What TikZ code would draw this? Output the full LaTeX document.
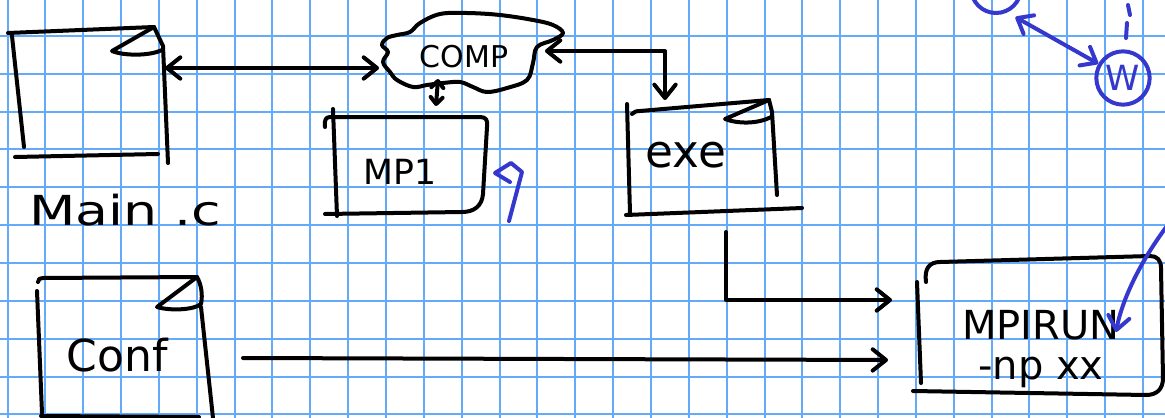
\documentclass[tikz,border=0pt]{standalone}
\usepackage{fontspec}
\setmainfont{DejaVu Sans}
\usetikzlibrary{arrows.meta}

\definecolor{gridblue}{RGB}{100,170,250}
\definecolor{penblue}{RGB}{52,56,205}

\tikzset{every picture/.style={line width=0.75pt}}
\tikzset{
  ink/.style={draw=black, line width=3pt, line cap=round, line join=round},
  blueink/.style={draw=penblue, line width=3pt, line cap=round, line join=round},
  gridline/.style={draw=gridblue, line width=1.5pt},
  barb/.style={-{Straight Barb[length=10pt,width=16pt,round]}},
  twobarb/.style={{Straight Barb[length=10pt,width=16pt,round]}-{Straight Barb[length=10pt,width=16pt,round]}},
  smallbarb/.style={{Straight Barb[length=5pt,width=9pt,round]}-{Straight Barb[length=5pt,width=9pt,round]}},
  lbl/.style={inner sep=0pt, font=\fontsize{#1}{#1}\selectfont},
  lbl/.default=30
}

\begin{document}
\begin{tikzpicture}[x=0.75pt,y=0.75pt,yscale=-1,xscale=1]
        \useasboundingbox (0,0) rectangle (1165,418);
        \clip (0,0) rectangle (1165,418);
        \fill[white] (0,0) rectangle (1165,418);

        %Grid paper
        \foreach \i in {0,...,30}{
          \draw[gridline] ({7.5+37.85*\i},0) -- ({7.5+37.85*\i},418);
        }
        \foreach \j in {1,...,11}{
          \draw[gridline] (0,{-2.1+37.87*\j}) -- (1165,{-2.1+37.87*\j});
        }

        %Shape: main.c sheet
        \draw[ink] (8,33) -- (154,27);
        \draw[ink] (12,36) -- (24,147);
        \draw[ink] (15,157) -- (158,154);
        \draw[ink] (154,27) -- (163,46) -- (168,163);
        \draw[ink] (154,27) -- (112,51) .. controls (124,56) and (150,56) .. (162,50);

        %Shape: cloud
        \draw[ink] plot[smooth cycle, tension=0.6] coordinates {(387,38) (382,45) (388,52) (383,62) (390,72) (397,80) (413,87) (427,85) (443,83) (460,82) (473,87) (487,92) (507,88) (527,80) (533,63) (537,47) (553,40) (563,33) (553,25) (533,20) (500,15) (467,13) (440,14) (420,23) (410,32) (397,35)};

        %Shape: MP1 box
        \draw[ink] (325,127) .. controls (324,120) and (326,117) .. (330,117) -- (480,117) .. controls (486,117) and (488,120) .. (487,127) -- (483,194) .. controls (482,206) and (474,212) .. (462,212) -- (325,214);
        \draw[ink] (333,109) -- (337,216);

        %Shape: exe sheet
        \draw[ink] (627,104) -- (630,213);
        \draw[ink] (632,114) .. controls (634,112) and (636,111) .. (640,111) -- (769,100);
        \draw[ink] (769,100) -- (772,112) -- (777,195);
        \draw[ink] (626,215) -- (802,208);
        \draw[ink] (769,100) -- (725,119) .. controls (738,124) and (758,124) .. (771,117);

        %Shape: Conf sheet
        \draw[ink] (38,282) .. controls (38,279) and (40,278) .. (43,278) -- (197,277);
        \draw[ink] (37,291) -- (42,413);
        \draw[ink] (201,307) -- (213,418);
        \draw[ink] (41,416) -- (199,417);
        \draw[ink] (197,277) -- (157,307) .. controls (170,311) and (194,310) .. (201,304) .. controls (203,294) and (201,284) .. (197,277);

        %Shape: mpirun box
        \draw[ink] (926,282) .. controls (924,268) and (930,262) .. (940,262) -- (1150,256) .. controls (1157,256) and (1161,260) .. (1161,268) -- (1163,378) .. controls (1163,389) and (1157,395) .. (1146,395) -- (913,391);
        \draw[ink] (917,282) -- (921,383);

        % Text Node
        \node[lbl=31] (main) at (125,210) {\scalebox{1.3}[1]{Main .c}};
        % Text Node
        \node[lbl=22.5] (comp) at (464,57) {COMP};
        % Text Node
        \node[lbl=26] (mp) at (400,172) {MP1};
        % Text Node
        \node[lbl=34] (exe) at (686,155) {exe};
        % Text Node
        \node[lbl=33] (conf) at (117,355) {Conf};
        % Text Node
        \node[inner sep=0pt, align=center, font=\fontsize{30}{30}\selectfont] (mpirun) at (1041,349) {MPIRUN\\-np xx};

        %Shape: Circles
        \node[circle, blueink, minimum size=37.5pt, inner sep=0pt] (ghost) at (996,-12) {};
        \node[circle, blueink, minimum size=40pt, inner sep=0pt, text=penblue, font=\fontsize{26}{26}\selectfont] (w) at (1123,78) {W};

        %Connector ends
        \coordinate (main-e) at (165,68);
        \coordinate (comp-w) at (379,68);
        \coordinate (comp-e) at (545,51);
        \coordinate (comp-s) at (438,79);
        \coordinate (mp-n) at (436,106);
        \coordinate (exe-n) at (665,100);
        \coordinate (exe-out) at (726,232);
        \coordinate (run-w1) at (892,300);
        \coordinate (run-w2) at (888,360);
        \coordinate (conf-e) at (243,358);
        \coordinate (edge-in) at (1167,226);
        \coordinate (run-in) at (1116,332);

        %Straight Lines
        \draw[ink, twobarb] (main-e) -- (comp-w);
        \draw[ink, twobarb] (comp-e) -| (exe-n);
        \draw[ink, smallbarb] (comp-s) -- (mp-n);
        \draw[ink, barb] (exe-out) |- (run-w1);
        \draw[ink, barb] (conf-e) -- (run-w2);

        %Blue pen
        \draw[blueink, twobarb] ([shift={(4,7)}]ghost.-55) -- (w.150);
        \draw[blueink, barb] (edge-in) .. controls (1140,262) and (1122,300) .. (run-in);
        \draw[blueink] (1128,5) -- (1130,15);
        \draw[blueink] (1127,23) -- (1126,38);
        \draw[blueink] (509,221) -- (522,172) -- (511,163) -- (495,173) -- (510,182);

\end{tikzpicture}
\end{document}
